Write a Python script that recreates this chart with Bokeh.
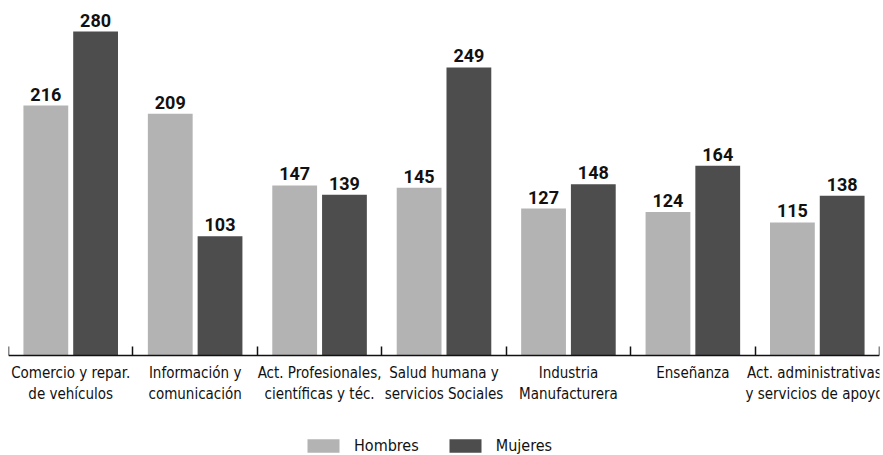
import numpy as np
from bokeh.plotting import figure
from bokeh.core.properties import value
from bokeh.models import (ColumnDataSource, Range1d, LinearAxis, FixedTicker,
                          LabelSet, Legend, LegendItem)
from bokeh.transform import dodge
from bokeh.embed import file_html
from bokeh.resources import INLINE

# Sectores y valores por sexo
sectores = [
    "Comercio y repar.\nde vehículos",
    "Información y\ncomunicación",
    "Act. Profesionales,\ncientíficas y téc.",
    "Salud humana y\nservicios Sociales",
    "Industria\nManufacturera",
    "Enseñanza",
    "Act. administrativas\ny servicios de apoyo",
]
hombres = [216, 209, 147, 145, 127, 124, 115]
mujeres = [280, 103, 139, 249, 148, 164, 138]

FONT = "DejaVu Sans Condensed"
FONT_NUM = "Roboto"
GRIS = "#b3b3b3"
OSCURO = "#4d4d4d"

centros = np.arange(len(sectores)) + 0.5
limites = list(range(len(sectores) + 1))
src = ColumnDataSource(dict(
    x=centros,
    hombres=hombres,
    mujeres=mujeres,
    h_txt=[str(v) for v in hombres],
    m_txt=[str(v) for v in mujeres],
))

# El área de dibujo baja por debajo del cero para alojar etiquetas y leyenda
p = figure(frame_width=871, frame_height=455, output_backend="svg",
           toolbar_location=None,
           x_range=Range1d(0, len(sectores)), y_range=Range1d(-86.4, 306.8),
           min_border_left=8, min_border_right=4, min_border_top=0,
           min_border_bottom=0, x_axis_type=None, y_axis_type=None)
p.outline_line_color = None
p.xgrid.visible = False
p.ygrid.visible = False

rh = p.vbar(x=dodge("x", -0.2, range=p.x_range), top="hombres", width=0.36,
            source=src, fill_color=GRIS, line_color=None)
rm = p.vbar(x=dodge("x", 0.2, range=p.x_range), top="mujeres", width=0.36,
            source=src, fill_color=OSCURO, line_color=None)

for col, off in (("h_txt", -0.2), ("m_txt", 0.2)):
    y = "hombres" if col == "h_txt" else "mujeres"
    p.add_layout(LabelSet(x=dodge("x", off, range=p.x_range), y=y, text=col,
                          source=src, text_align="center", text_baseline="bottom",
                          y_offset=5, text_font=value(FONT_NUM),
                          text_font_size="18px", text_font_style="bold",
                          text_color="#111111"))

# Eje en y = 0: etiquetas centradas en cada sector y marcas en sus límites
eje = LinearAxis(ticker=FixedTicker(ticks=list(centros), minor_ticks=limites),
                 fixed_location=0)
eje.major_label_overrides = {float(c): s for c, s in zip(centros, sectores)}
eje.major_tick_line_color = None
eje.major_tick_in = 0
eje.major_tick_out = 0
eje.minor_tick_in = 9
eje.minor_tick_out = 0
eje.minor_tick_line_color = "#111111"
eje.minor_tick_line_width = 1.5
eje.axis_line_color = "#111111"
eje.axis_line_width = 1.5
eje.major_label_text_font = FONT
eje.major_label_text_font_size = "15px"
eje.major_label_text_color = "#111111"
eje.major_label_standoff = 8
p.add_layout(eje, "below")

leyenda = Legend(items=[LegendItem(label="Hombres", renderers=[rh]),
                        LegendItem(label="Mujeres", renderers=[rm])],
                 orientation="horizontal", location=(295, 0),
                 glyph_width=40, glyph_height=17, label_height=17,
                 label_standoff=11, spacing=26,
                 label_text_font=FONT, label_text_font_size="16px",
                 label_text_color="#111111", border_line_color=None,
                 background_fill_alpha=0, margin=0, padding=2)
p.add_layout(leyenda, "center")

open("out.html", "w").write(file_html(p, INLINE))
